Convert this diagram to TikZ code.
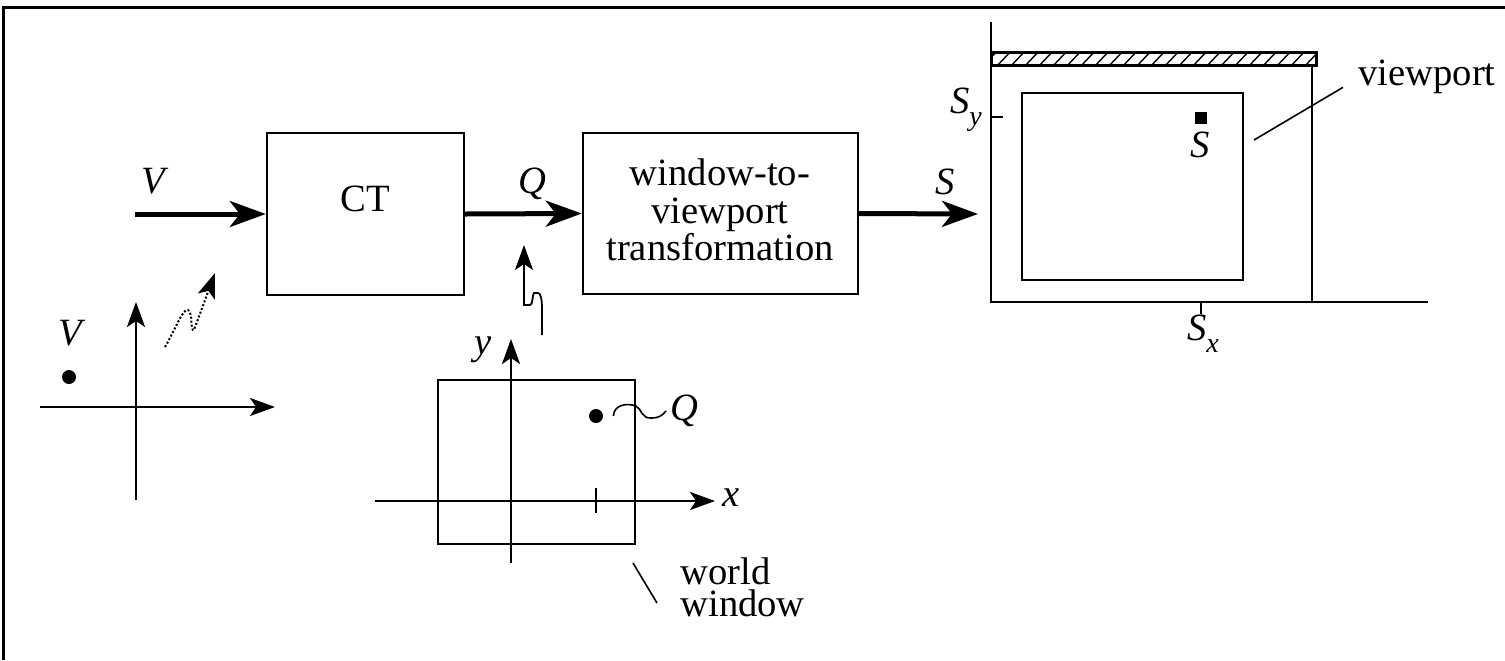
\documentclass[tikz,border=0pt]{standalone}
\usepackage{fontspec}
\setmainfont{Liberation Serif}
\usetikzlibrary{arrows.meta}
\begin{document}
\begin{tikzpicture}[x=0.5pt,y=-0.5pt,
  every node/.style={font=\fontsize{19.3}{18.75}\selectfont, inner sep=0pt},
  lbl/.style={font=\fontsize{19.3}{18.75}\selectfont\itshape},
  blockbox/.style={draw, line width=1.2pt, rectangle},
  bigarrow/.style={line width=2.5pt, -{Stealth[length=18pt,width=13pt,inset=5pt]}},
  axisline/.style={line width=1.2pt},
  axarrow/.style={line width=1.2pt, -{Stealth[length=12.5pt,width=9pt,inset=3pt]}},
  squig/.style={line width=0.9pt, -{Stealth[length=12.5pt,width=9pt,inset=3pt]}},
  thinline/.style={line width=0.8pt},
  dotnode/.style={circle, fill, minimum size=7pt},
]
\useasboundingbox (0,0) rectangle (1505,660);
% frame
\draw[line width=1.5pt] (3,660) -- (3,7) -- (1505,7);

% blocks
\node[blockbox, minimum width=98.5pt, minimum height=81pt] (ct) at (365.5,214) {};
\node (cttext) at (365,199) {CT};
\node[blockbox, minimum width=137.5pt, minimum height=80.5pt] (w2v) at (720.5,213.5) {};
\node[align=center] (w2vtext) at (720,210) {window-to-\\viewport\\transformation};

% main arrows
\coordinate (vin) at (135,214);
\coordinate (sout) at (978,214);
\draw[bigarrow] (vin) -- (ct.west);
\draw[bigarrow] (ct.east) -- (w2v.west);
\draw[bigarrow] (w2v.east) -- (sout);
\node[lbl] (vlab) at (153,181) {V};
\node[lbl] (qlab) at (532,184) {Q};
\node[lbl] (slab) at (945,182) {S};

% left axes
\coordinate (lax0) at (40,407);
\coordinate (lax1) at (275,407);
\coordinate (lay0) at (136,500);
\coordinate (lay1) at (136,302);
\draw[axarrow] (lax0) -- (lax1);
\draw[axarrow] (lay0) -- (lay1);
\node[dotnode] (vdot) at (69,377) {};
\node[lbl] (vdotlab) at (70,333) {V};

% V squiggle arrow
\coordinate (vs0) at (165,347);
\coordinate (vs1) at (215,273);
\draw[squig, line width=1pt, densely dotted] (vs0) .. controls (175,330) and (183,308) .. (188,310)
  .. controls (193,312) and (190,332) .. (194,330) -- (vs1);

% Q squiggle arrow
\coordinate (qs0) at (542,335);
\coordinate (qs1) at (524,245);
\draw[squig] (qs0) -- (542,310) .. controls (542,300) and (541,293) .. (538,293) -- (534,293)
  .. controls (532,295) and (533,305) .. (530,305) -- (524,305) -- (qs1);

% world window axes
\draw[blockbox, line width=1.1pt] (438,380) rectangle (635,544);
\coordinate (wax0) at (375,501);
\coordinate (wax1) at (715,501);
\coordinate (way0) at (511,563);
\coordinate (way1) at (511,339);
\draw[axarrow] (wax0) -- (wax1);
\draw[axarrow] (way0) -- (way1);
\draw[axisline] (596,488) -- (596,513);
\node[lbl] (xlab) at (731,498) {x};
\node[lbl] (ylab) at (483,350) {y};
\node[dotnode] (qdot) at (596,416) {};
\node[lbl, anchor=west] (qdotlab) at (670,411) {Q};
\draw[thinline] ([xshift=5pt]qdot.east) .. controls (614,404) and (628,403) .. (636,406)
  .. controls (642,409) and (641,419) .. (652,418) .. controls (658,418) and (662,416) .. ([xshift=-2pt]qdotlab.west);

\node[align=left, anchor=north west, font=\fontsize{19.3}{16}\selectfont] (wwlab) at (680,557) {world\\window};
\coordinate (ww0) at (633,563);
\coordinate (ww1) at (657,603);
\draw[thinline] (ww0) -- (ww1);

% viewport area
\draw[axisline] (991,22) -- (991,302) -- (1428,302);
\draw[axisline] (1312,65) -- (1312,302);
\begin{scope}
\clip (991,52) rectangle (1316,65);
\foreach \i in {0,...,24} \draw[line width=0.7pt] (982+\i*14,67) -- (998+\i*14,50);
\end{scope}
\draw[line width=1.5pt] (991,52) rectangle (1316,65);
\draw[blockbox, line width=1.1pt] (1022,93) rectangle (1243,280);
\draw[axisline] (991,117) -- (1003,117);
\draw[axisline] (1201,302) -- (1201,314);
\node[fill, minimum size=6.2pt] (sq) at (1201,118) {};
\node[lbl] (sqlab) at (1200,145) {S};
\node[lbl] (sylab) at (966,110) {S\raisebox{-0.3em}{\fontsize{14}{14}\selectfont y}};
\node[lbl] (sxlab) at (1203,334) {S\raisebox{-0.3em}{\fontsize{14}{14}\selectfont x}};
\node[anchor=base west] (vplab) at (1358,85) {viewport};
\coordinate (vp0) at (1254,140);
\draw[thinline] (vp0) -- ([xshift=-7.5pt,yshift=-5.5pt]vplab.west);
\end{tikzpicture}
\end{document}
